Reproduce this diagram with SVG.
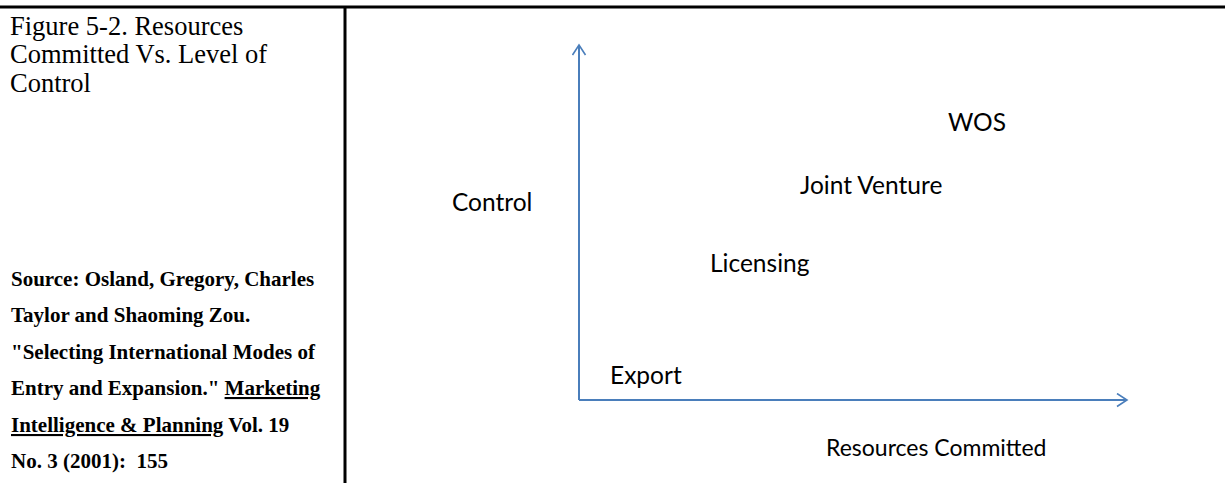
<svg xmlns="http://www.w3.org/2000/svg" width="1225" height="483" viewBox="0 0 1225 483">
<defs>
<style>
.title{font-family:"Liberation Serif","Times New Roman",serif;font-size:26.5px;fill:#000}
.src{font-family:"Liberation Serif","Times New Roman",serif;font-size:21px;font-weight:bold;fill:#000}
.lbl{font-family:Lato,"Open Sans",sans-serif;font-size:24.5px;fill:#000}
.axis{stroke:#4a7ebb;stroke-width:2;fill:none}
</style>
<marker id="ah" markerWidth="14" markerHeight="16" refX="11" refY="7" orient="auto" markerUnits="userSpaceOnUse">
<path d="M1,0.5 L11,7 L1,13.5" fill="none" stroke="#4a7ebb" stroke-width="1.6"/>
</marker>
</defs>
<rect width="1225" height="483" fill="#fff"/>
<g id="frame" stroke="#000" stroke-width="3">
<line x1="0" y1="7" x2="1225" y2="7"/>
<line x1="345" y1="7" x2="345" y2="483"/>
</g>
<g id="caption">
<text class="title" x="10" y="35">Figure 5-2. Resources</text>
<text class="title" x="10" y="63">Committed Vs. Level of</text>
<text class="title" x="10" y="92">Control</text>
</g>
<g id="source">
<text class="src" x="11" y="286">Source: Osland, Gregory, Charles</text>
<text class="src" x="11" y="322">Taylor and Shaoming Zou.</text>
<text class="src" x="11" y="359">"Selecting International Modes of</text>
<text class="src" x="11" y="395">Entry and Expansion." <tspan text-decoration="underline">Marketing</tspan></text>
<text class="src" x="11" y="432"><tspan text-decoration="underline">Intelligence &amp; Planning</tspan> Vol. 19</text>
<text class="src" x="11" y="468">No. 3 (2001):&#160; 155</text>
</g>
<g id="connectors">
<line class="axis" x1="579" y1="400" x2="579" y2="45" marker-end="url(#ah)"/>
<line class="axis" x1="579" y1="400" x2="1127" y2="400" marker-end="url(#ah)"/>
</g>
<g id="node-wos"><text class="lbl" x="948" y="131">WOS</text></g>
<g id="node-jv"><text class="lbl" x="800" y="194">Joint Venture</text></g>
<g id="node-control"><text class="lbl" x="452" y="211">Control</text></g>
<g id="node-licensing"><text class="lbl" x="710" y="272">Licensing</text></g>
<g id="node-export"><text class="lbl" x="610" y="384">Export</text></g>
<g id="node-resources"><text class="lbl" x="826" y="456" style="font-size:23px">Resources Committed</text></g>
</svg>
